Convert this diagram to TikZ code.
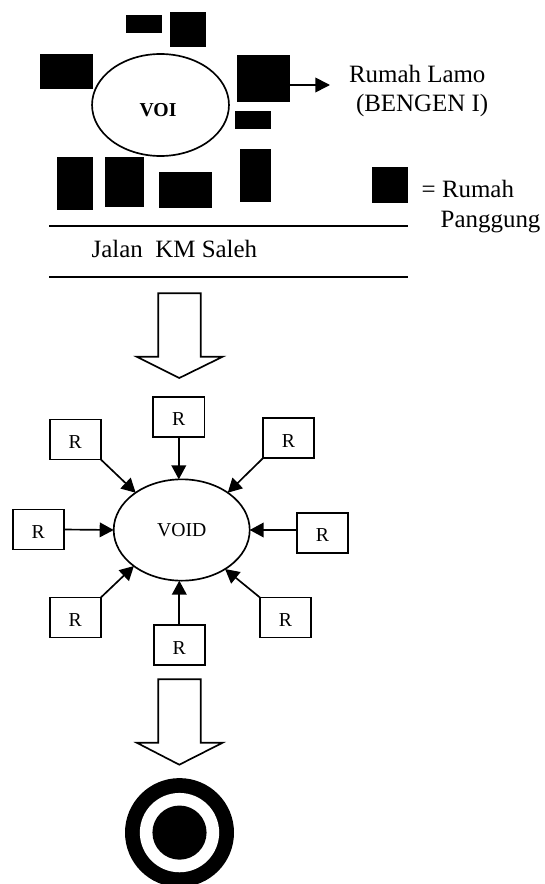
\documentclass[tikz,border=0pt]{standalone}
\usepackage{fontspec}
\setmainfont{Liberation Serif}
\usetikzlibrary{arrows.meta,shapes.geometric}
\tikzset{
  house/.style={fill=black,draw=none,inner sep=0pt,outer sep=0pt},
  ring/.style={ellipse,draw=black,line width=1.25pt,fill=white,inner sep=0pt,outer sep=0pt},
  rbox/.style={draw=black,line width=1.25pt,fill=white,inner sep=0pt,outer sep=0pt,
    minimum width=38.3pt,minimum height=30pt,font=\fontsize{14.8}{17}\selectfont,
    text height=13.5pt,text depth=0pt},
  biglabel/.style={inner sep=0pt,outer sep=0pt,anchor=base west,font=\fontsize{18.7}{22}\selectfont},
  conn/.style={line width=1.25pt,-{Triangle[length=10.5pt,width=11pt]},shorten >=0pt},
  road/.style={line width=1.25pt},
  blockarrow/.style={draw=black,line width=1.25pt,fill=white,line join=miter}
}
\newcommand{\house}[5]{% name, x1, y1, x2, y2
  \node[house,minimum width={(#4-#2)*0.75pt},minimum height={(#5-#3)*0.75pt}] (#1) at ({(#2+#4)/2},{(#3+#5)/2}) {};}
\begin{document}
\begin{tikzpicture}[x=0.75pt,y=-0.75pt]
\useasboundingbox (0,0) rectangle (545,884);
% upper settlement
\node[ring,minimum width=102.7pt,minimum height=76.5pt] (voi) at (160.5,105) {};
\node[inner sep=0pt,font=\fontsize{14.8}{17}\selectfont\bfseries] (voitext) at (158,110) {VOI};
\house{h1}{125.7}{14.7}{161.7}{33.3}
\house{h2}{170.3}{11.7}{206.3}{47.3}
\house{h3}{40.3}{53.7}{93.3}{89.3}
\house{h4}{237.3}{55}{290}{101.7}
\house{h5}{234.7}{110.7}{270.7}{129.3}
\house{h6}{240.3}{149.3}{271}{202.3}
\house{h7}{57.3}{157.3}{93.3}{210}
\house{h8}{104.7}{156.7}{144.3}{207.3}
\house{h9}{159.3}{172}{212.3}{208}
\house{legend}{371.7}{167.3}{408}{203}
% labels
\node[biglabel] (lamo) at (349,82.7) {Rumah Lamo};
\node[biglabel] (bengen) at (356,111.7) {(BENGEN I)};
\node[biglabel] (eqrumah) at (421.7,198) {= Rumah};
\node[biglabel] (panggung) at (440.7,228) {Panggung};
\node[biglabel] (jalan) at (91.7,257.7) {Jalan\hspace{0.5em}KM Saleh};
\coordinate (lamotip) at (330,85);
\draw[line width=1.25pt,-{Triangle[length=11pt,width=11pt]}] (h4.east |- lamotip) -- (lamotip);
% road
\coordinate (roadA1) at (49,225.7);
\coordinate (roadA2) at (408,225.7);
\coordinate (roadB1) at (49,277);
\coordinate (roadB2) at (408,277);
\draw[road] (roadA1) -- (roadA2);
\draw[road] (roadB1) -- (roadB2);
% block arrow 1
\draw[blockarrow] (158.3,293.3) -- (200.7,293.3) -- (200.7,356.7) -- (222.7,356.7) -- (179.3,378) -- (136.7,356.7) -- (158.3,356.7) -- cycle;
% void diagram
\node[ring,minimum width=102pt,minimum height=76pt,font=\fontsize{14.8}{17}\selectfont] (void) at (181.7,530) {\raisebox{-1.5pt}{VOID}};
\node[rbox] (rt) at (178.8,416.7) {R};
\node[rbox] (rtl) at (75.3,439.5) {R};
\node[rbox] (rtr) at (288.5,438.2) {R};
\node[rbox] (rl) at (38.2,529.5) {R};
\node[rbox] (rr) at (322.5,532.7) {R};
\node[rbox] (rbl) at (75.3,617.5) {R};
\node[rbox] (rbr) at (285.5,617.5) {R};
\node[rbox] (rb) at (179.3,645) {R};
\draw[conn] (rt.south) -- (rt.south |- void.north);
\draw[conn] (rtl.south east) -- (void.141.5);
\draw[conn] (rtr.south west) -- (void.39.4);
\draw[conn] (rl.east) -- (void.west);
\draw[conn] (rr.west |- void.east) -- (void.east);
\draw[conn] (rbl.north east) -- (void.217);
\draw[conn] (rbr.north west) -- (void.318);
\draw[conn] (rb.north) -- (rb.north |- void.south);
% block arrow 2
\draw[blockarrow] (158.3,679.3) -- (200.7,679.3) -- (200.7,742.7) -- (222.7,742.7) -- (179.3,764.7) -- (136.7,742.7) -- (158.3,742.7) -- cycle;
% target
\node[circle,fill=black,inner sep=0pt,minimum size=81.75pt] (outer) at (179.5,832.6) {};
\node[circle,fill=white,inner sep=0pt,minimum size=59.5pt] (middle) at (outer.center) {};
\node[circle,fill=black,inner sep=0pt,minimum size=40.6pt] (inner) at (outer.center) {};
\end{tikzpicture}
\end{document}
